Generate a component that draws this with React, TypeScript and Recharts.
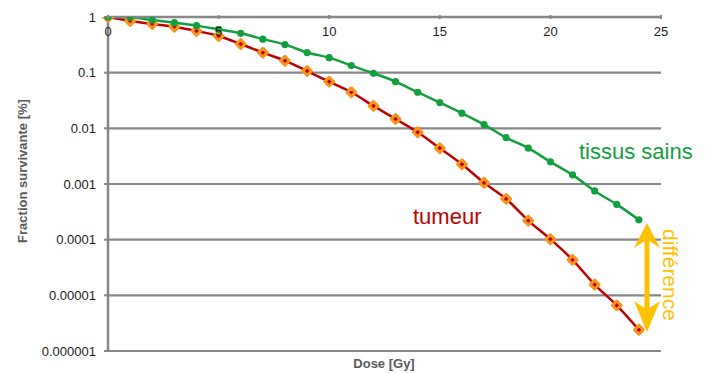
import React from 'react';
import { CartesianGrid, Line, LineChart, XAxis, YAxis } from 'recharts';

const doses = [0, 1, 2, 3, 4, 5, 6, 7, 8, 9, 10, 11, 12, 13, 14, 15, 16, 17, 18, 19, 20, 21, 22, 23, 24];
const tissusSains = [
  1, 0.99, 0.88, 0.79, 0.7, 0.6, 0.51, 0.4, 0.32, 0.23, 0.186, 0.134, 0.0975, 0.069, 0.0445, 0.029,
  0.0187, 0.0117, 0.0068, 0.0044, 0.0025, 0.00146, 0.00075, 0.00043, 0.000227,
];
const tumeur = [
  1, 0.85, 0.75, 0.67, 0.56, 0.456, 0.327, 0.229, 0.164, 0.107, 0.069, 0.0445, 0.0253, 0.0147, 0.0085,
  0.0044, 0.00226, 0.00105, 0.00054, 0.00022, 0.000102, 0.0000434, 0.0000156, 0.0000066, 0.0000024,
];
const xTicks = [0, 5, 10, 15, 20, 25];
const yTicks = [0.000001, 0.00001, 0.0001, 0.001, 0.01, 0.1, 1];
const yTickLabels = ['0.000001', '0.00001', '0.0001', '0.001', '0.01', '0.1', '1'];

const data = doses.map((d, i) => ({ dose: d, sains: tissusSains[i], tumeur: tumeur[i] }));

const font = '"Liberation Sans", Arial, sans-serif';
const gray = '#878787';
const green = '#12a03f';
const red = '#c00000';
const orange = '#f7941d';
const yellow = '#ffc000';

function TopTick(props: any) {
  const { x, y, payload } = props;
  return (
    <g>
      <line x1={x} x2={x} y1={y} y2={y + 4} stroke={gray} strokeWidth={2} />
      <text x={x} y={y + 21} textAnchor="middle" fontSize={13} fontFamily={font} fill="#1a1a1a">
        {payload.value}
      </text>
    </g>
  );
}

function Diamond(props: any) {
  const { cx, cy } = props;
  if (cx == null || cy == null) return null;
  const r = 4.4;
  return (
    <polygon
      points={`${cx},${cy - r} ${cx + r},${cy} ${cx},${cy + r} ${cx - r},${cy}`}
      fill={red}
      stroke={orange}
      strokeWidth={3}
      strokeLinejoin="round"
    />
  );
}

function YLabel(props: any) {
  const { viewBox } = props;
  const cx = viewBox.x + 22;
  const cy = viewBox.y + viewBox.height / 2 - 13;
  return (
    <text
      x={cx}
      y={cy}
      transform={`rotate(-90, ${cx}, ${cy})`}
      textAnchor="middle"
      dominantBaseline="central"
      fontSize={13}
      fontWeight="bold"
      fontFamily={font}
      fill="#595959"
    >
      Fraction survivante [%]
    </text>
  );
}

export default function App() {
  return (
    <div style={{ position: 'absolute', left: 0, top: 0, width: 705, height: 374, background: '#fff' }}>
      <LineChart width={705} height={374} data={data} margin={{ top: 5, right: 44, bottom: 23, left: 0 }}>
        <CartesianGrid vertical={false} stroke={gray} strokeWidth={2.2} />
        <XAxis
          dataKey="dose"
          type="number"
          orientation="top"
          domain={[0, 25]}
          ticks={xTicks}
          interval={0}
          height={12}
          tickSize={0}
          tickLine={false}
          tick={<TopTick />}
          axisLine={{ stroke: gray, strokeWidth: 2.5 }}
        />
        <YAxis
          scale="log"
          type="number"
          domain={[0.000001, 1]}
          ticks={yTicks}
          interval={0}
          allowDataOverflow
          width={108}
          tickSize={4}
          tickMargin={8}
          tickLine={{ stroke: gray, strokeWidth: 2 }}
          axisLine={{ stroke: gray, strokeWidth: 2.5 }}
          tick={{ fontSize: 13, fontFamily: font, fill: '#1a1a1a' }}
          tickFormatter={(v: number) => yTickLabels[yTicks.indexOf(v)] ?? String(v)}
          label={<YLabel />}
        />
        <Line
          type="monotone"
          dataKey="tumeur"
          stroke={red}
          strokeWidth={2.5}
          dot={<Diamond />}
          activeDot={false}
          isAnimationActive={false}
        />
        <Line
          type="monotone"
          dataKey="sains"
          stroke={green}
          strokeWidth={2.5}
          dot={{ r: 3.6, fill: green, stroke: green, strokeWidth: 0 }}
          activeDot={false}
          isAnimationActive={false}
        />
      </LineChart>
      <svg
        width={705}
        height={374}
        style={{ position: 'absolute', left: 0, top: 0, pointerEvents: 'none' }}
        fontFamily={font}
      >
        <text x={579} y={159} fontSize={22} fill={green}>
          tissus sains
        </text>
        <text x={413} y={224} fontSize={22} fill={red}>
          tumeur
        </text>
        <text x={663} y={275} fontSize={21} fill={yellow} textAnchor="middle" transform="rotate(90, 663, 275)">
          différence
        </text>
        <polygon
          points="647,223 660,248 649.5,241 649.5,308 660,301 647,332 634,301 644.5,308 644.5,241 634,248"
          fill={yellow}
        />
        <text x={384} y={368} fontSize={13} fontWeight="bold" fill="#595959" textAnchor="middle">
          Dose [Gy]
        </text>
      </svg>
    </div>
  );
}
